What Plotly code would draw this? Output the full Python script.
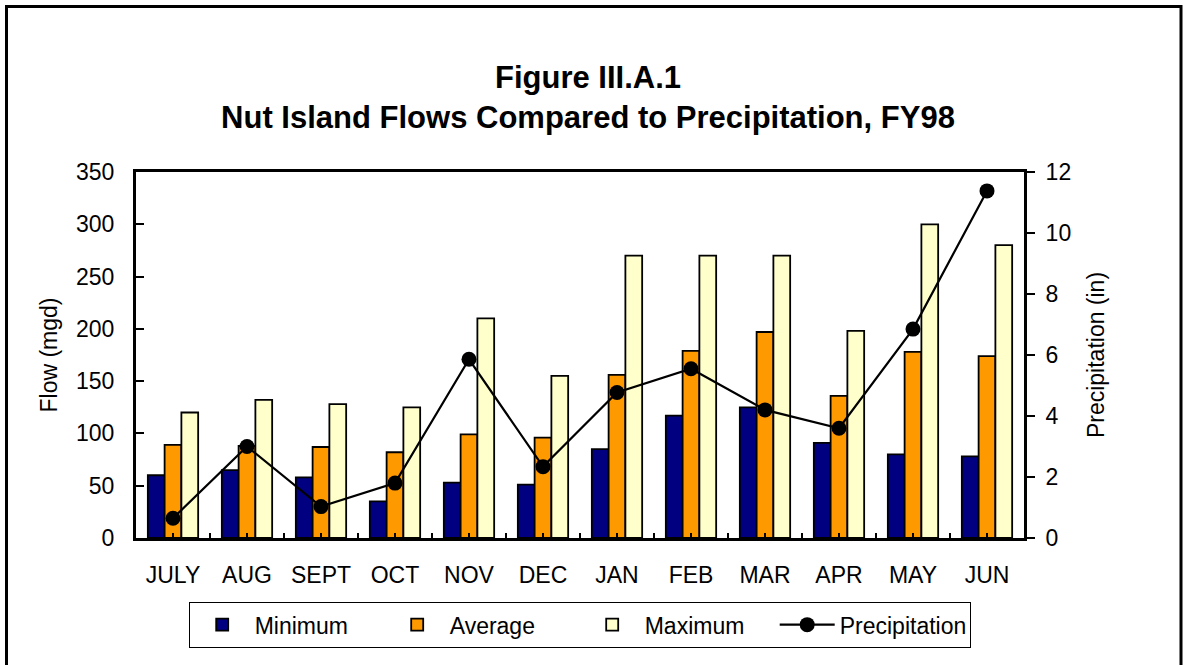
import plotly.graph_objects as go

months = ["JULY", "AUG", "SEPT", "OCT", "NOV", "DEC", "JAN", "FEB", "MAR", "APR", "MAY", "JUN"]
flow_min = [60, 65, 58, 35, 53, 51, 85, 117, 125, 91, 80, 78]
flow_avg = [89, 88, 87, 82, 99, 96, 156, 179, 197, 136, 178, 174]
flow_max = [120, 132, 128, 125, 210, 155, 270, 270, 270, 198, 300, 280]
precip = [0.65, 3.0, 1.03, 1.8, 5.86, 2.34, 4.77, 5.55, 4.2, 3.6, 6.85, 11.38]

xpos = list(range(len(months)))
FONT = "Arial, Liberation Sans, sans-serif"

fig = go.Figure()
line = dict(color="black", width=1.8)
fig.add_trace(go.Bar(x=xpos, y=flow_min, name="Minimum", marker=dict(color="#000080", line=line)))
fig.add_trace(go.Bar(x=xpos, y=flow_avg, name="Average", marker=dict(color="#FF9900", line=line)))
fig.add_trace(go.Bar(x=xpos, y=flow_max, name="Maximum", marker=dict(color="#FFFFCC", line=line)))
fig.add_trace(go.Scatter(x=xpos, y=precip, name="Precipitation", yaxis="y2", mode="lines+markers",
                         line=dict(color="black", width=2.2),
                         marker=dict(color="black", size=15, symbol="circle")))

W, H = 1187, 665
L, R, T, B = 136, 163, 172, 127
pw, ph = W - L - R, H - T - B

fig.update_layout(
    width=W, height=H,
    margin=dict(l=L, r=R, t=T, b=B),
    paper_bgcolor="white", plot_bgcolor="white",
    font=dict(family=FONT, size=23, color="black"),
    barmode="group", bargap=0.32, bargroupgap=0,
    title=dict(text="<b>Figure III.A.1<br>Nut Island Flows Compared to Precipitation, FY98</b>",
               x=588 / W, xanchor="center", yref="container", y=1 - 88 / H, yanchor="middle",
               font=dict(family=FONT, size=31, color="black")),
    xaxis=dict(range=[-0.5, 11.5], tickvals=xpos, ticktext=months, ticks="inside", ticklen=5,
               tickwidth=1.5, tickcolor="black", showline=True, linecolor="black", linewidth=3,
               mirror=True, showgrid=False, zeroline=False, ticklabelstandoff=14,
               tickfont=dict(size=23),
               minor=dict(tickvals=[i - 0.5 for i in xpos] + [11.5], ticks="inside", ticklen=5,
                          tickwidth=1.5, tickcolor="black", showgrid=False)),
    yaxis=dict(range=[0, 350], dtick=50, ticks="inside", ticklen=8, tickwidth=1.5, tickcolor="black",
               showline=True, linecolor="black", linewidth=3, showgrid=False, zeroline=False,
               ticklabelstandoff=14, tickfont=dict(size=23),
               title=dict(text="Flow (mgd)", standoff=12, font=dict(size=23))),
    yaxis2=dict(range=[0, 12], dtick=2, overlaying="y", side="right", ticks="outside", ticklen=8,
                tickwidth=1.5, tickcolor="black", showline=True, linecolor="black", linewidth=3,
                showgrid=False, zeroline=False, ticklabelstandoff=6, tickfont=dict(size=23),
                title=dict(text="Precipitation (in)", standoff=18, font=dict(size=23))),
    legend=dict(orientation="h", x=0.5, xanchor="center", y=-(602 - (T + ph)) / ph, yanchor="top",
                bordercolor="black", borderwidth=1.2, font=dict(size=23), traceorder="normal",
                itemwidth=55, entrywidth=125, entrywidthmode="pixels"),
    showlegend=True,
)

fig.add_shape(type="rect", xref="paper", yref="paper",
              x0=(6.5 - L) / pw, x1=(1181 - L) / pw, y0=(T + ph - 675) / ph, y1=(T + ph - 6.5) / ph,
              line=dict(color="black", width=3), fillcolor="rgba(0,0,0,0)", layer="below")

fig.write_html("out.html", config={"displayModeBar": False},
               post_script="document.body.style.margin='0';")
